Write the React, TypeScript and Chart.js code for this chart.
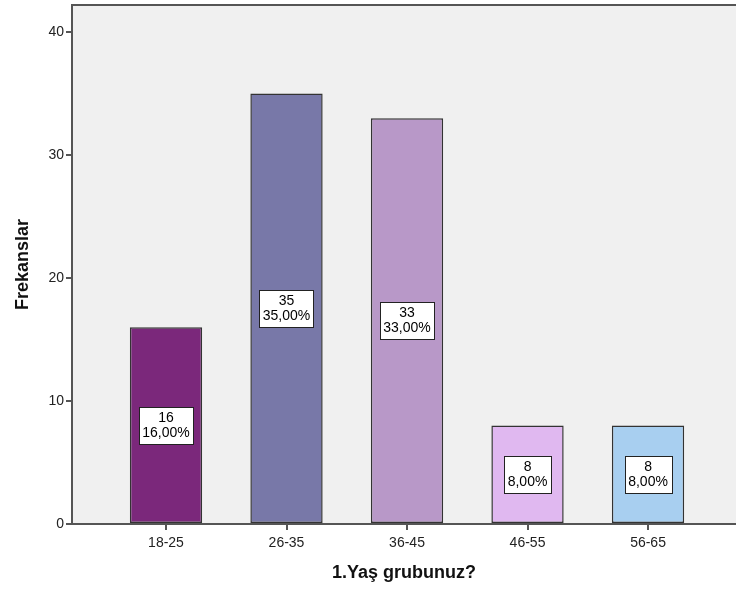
import React, { useEffect, useRef } from "react";
import { Chart, registerables } from "chart.js";

Chart.register(...registerables);

const categories = ["18-25", "26-35", "36-45", "46-55", "56-65"];
const frequencies = [16, 35, 33, 8, 8];
const barColors = ["#7B287B", "#7878A8", "#B898C8", "#E0B8F0", "#A8CFF0"];
const yTicks = [0, 10, 20, 30, 40];

const FONT = "'Liberation Sans', Arial, sans-serif";

const framePlugin = {
  id: "frame",
  beforeDraw(chart: any) {
    const { ctx, chartArea } = chart;
    ctx.save();
    ctx.fillStyle = "#F0F0F0";
    ctx.fillRect(chartArea.left, chartArea.top, chartArea.right - chartArea.left, chartArea.bottom - chartArea.top);
    ctx.restore();
  },
  afterDraw(chart: any) {
    const { ctx, chartArea } = chart;
    ctx.save();
    ctx.strokeStyle = "#555555";
    ctx.lineWidth = 2;
    ctx.beginPath();
    ctx.moveTo(chartArea.left, chartArea.bottom);
    ctx.lineTo(chartArea.left, chartArea.top);
    ctx.lineTo(chartArea.right, chartArea.top);
    ctx.stroke();
    ctx.restore();
  },
};

const labelPlugin = {
  id: "barLabels",
  afterDatasetsDraw(chart: any) {
    const { ctx } = chart;
    const meta = chart.getDatasetMeta(0);
    const total = frequencies.reduce((a, b) => a + b, 0);
    ctx.save();
    ctx.font = `14px ${FONT}`;
    ctx.textAlign = "center";
    ctx.textBaseline = "middle";
    meta.data.forEach((bar: any, i: number) => {
      const v = frequencies[i];
      const l1 = String(v);
      const l2 = ((v / total) * 100).toFixed(2).replace(".", ",") + "%";
      const w = Math.max(ctx.measureText(l1).width, ctx.measureText(l2).width) + 7;
      const h = 37;
      const cx = bar.x;
      const cy = (bar.y + bar.base) / 2;
      const x0 = Math.round(cx - w / 2) + 0.5;
      const y0 = Math.round(cy - h / 2) + 0.5;
      ctx.fillStyle = "#FFFFFF";
      ctx.fillRect(x0, y0, Math.round(w), h);
      ctx.strokeStyle = "#222222";
      ctx.lineWidth = 1;
      ctx.strokeRect(x0, y0, Math.round(w), h);
      ctx.fillStyle = "#000000";
      ctx.fillText(l1, cx, cy - 7);
      ctx.fillText(l2, cx, cy + 8);
    });
    ctx.restore();
  },
};

export default function App() {
  const ref = useRef<HTMLCanvasElement>(null);
  useEffect(() => {
    document.body.style.margin = "0";
    const chart = new Chart(ref.current!, {
      type: "bar",
      data: {
        datasets: [
          {
            data: frequencies.map((v, i) => ({ x: i, y: v })),
            backgroundColor: barColors,
            borderColor: "#333333",
            borderWidth: 1.5,
            borderSkipped: false,
            categoryPercentage: 1,
            barPercentage: 0.6,
          },
        ],
      },
      options: {
        animation: false,
        responsive: false,
        maintainAspectRatio: false,
        layout: { padding: { top: 5, right: 0, left: 0, bottom: 0 } },
        plugins: {
          legend: { display: false },
          tooltip: { enabled: false },
        },
        scales: {
          x: {
            type: "linear",
            offset: false,
            min: -0.78,
            max: 4.73,
            afterBuildTicks: (scale: any) => {
              scale.ticks = categories.map((_, i) => ({ value: i }));
            },
            afterFit: (scale: any) => {
              scale.height = 68;
              scale.paddingLeft = 0;
              scale.paddingRight = 0;
            },
            grid: {
              display: true,
              offset: false,
              drawOnChartArea: false,
              drawTicks: true,
              tickLength: 6,
              color: "#555555",
              lineWidth: 2,
            },
            border: { display: true, color: "#555555", width: 2 },
            ticks: {
              autoSkip: false,
              maxRotation: 0,
              padding: 5,
              color: "#222222",
              font: { family: FONT, size: 14 },
              callback: (v: any) => categories[Number(v)] ?? "",
            },
            title: {
              display: true,
              text: "1.Yaş grubunuz?",
              color: "#111111",
              font: { family: FONT, size: 18, weight: "bold" },
              padding: { top: 0, bottom: 8 },
            },
          },
          y: {
            min: 0,
            max: 42.2,
            afterBuildTicks: (scale: any) => {
              scale.ticks = yTicks.map((v) => ({ value: v }));
            },
            afterFit: (scale: any) => {
              scale.width = 72;
              scale.paddingTop = 0;
              scale.paddingBottom = 0;
            },
            grid: {
              display: true,
              drawOnChartArea: false,
              drawTicks: true,
              tickLength: 6,
              color: "#555555",
              lineWidth: 2,
            },
            border: { display: true, color: "#555555", width: 2 },
            ticks: {
              padding: 2,
              color: "#222222",
              font: { family: FONT, size: 14 },
            },
            title: {
              display: true,
              text: "Frekanslar",
              color: "#111111",
              font: { family: FONT, size: 18, weight: "bold" },
              padding: { top: 12, bottom: 0 },
            },
          },
        },
      },
      plugins: [framePlugin, labelPlugin],
    });
    return () => chart.destroy();
  }, []);
  return (
    <div style={{ position: "absolute", left: 0, top: 0, width: 736, height: 592 }}>
      <canvas ref={ref} width={736} height={592} />
    </div>
  );
}
